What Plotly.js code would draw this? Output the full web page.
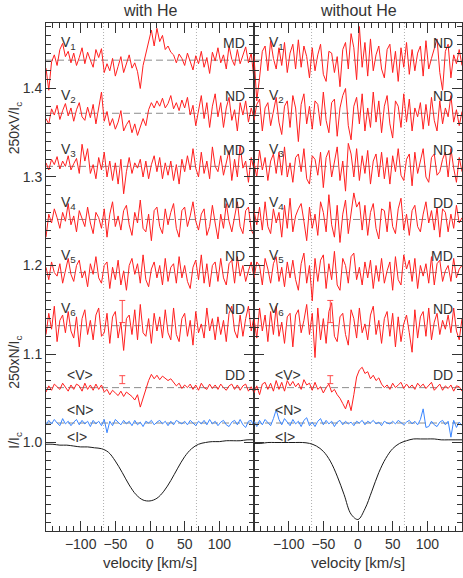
<!DOCTYPE html>
<html>
<head>
<meta charset="utf-8">
<script src="https://cdn.plot.ly/plotly-3.0.1.min.js"></script>
<style>
  html, body { margin: 0; padding: 0; background: #fff; }
  #grafico { width: 463px; height: 578px; }
</style>
</head>
<body>
<div id="grafico"></div>
<script>
// Velocity grid of the LSD profiles [km/s]
const velocity = [
  -150,-146,-142,-138,-134,-130,-126,-122,-118,-114,
  -110,-106,-102,-98,-94,-90,-86,-82,-78,-74,
  -70,-66,-62,-58,-54,-50,-46,-42,-38,-34,
  -30,-26,-22,-18,-14,-10,-6,-2,2,6,
  10,14,18,22,26,30,34,38,42,46,
  50,54,58,62,66,70,74,78,82,86,
  90,94,98,102,106,110,114,118,122,126,
  130,134,138,142,146,150
];

// Stokes V per observation, in units of 0.001 around each offset - "with He"
const withV1 = [
  -9,-34,-2,6,-6,12,19,4,10,-3,  8,-6,3,14,-4,9,0,-8,12,3,
  13,-14,-4,-12,2,-18,-7,4,-14,-3,  6,-9,-3,-13,-32,-6,8,22,34,16,
  36,21,28,12,16,9,6,-3,7,2,  -6,8,-2,-11,5,-4,10,-8,3,-15,
  9,-1,14,-3,6,-10,16,1,-6,12,  -4,5,15,-3,8,-22
];
const withV2 = [
  -6,-12,5,-2,9,-7,3,11,-3,6,  -9,4,12,-4,-8,7,-5,10,-12,4,
  24,-9,2,-14,-6,-18,-10,3,-20,-13,  -8,-22,-12,-25,-16,-6,-14,4,12,6,
  14,8,17,6,11,20,5,12,3,15,  6,18,-2,9,-14,5,20,-6,12,-16,
  8,22,-4,12,-16,6,18,-8,4,-20,  12,-2,14,-10,6,-6
];
const withV3 = [
  4,-4,8,2,11,-3,6,0,12,-4,  3,9,-8,25,6,20,-8,2,-14,10,
  -4,16,-12,6,-16,4,-20,8,-31,-6,  10,-8,4,-2,8,-12,6,-14,2,12,
  -6,10,-14,4,-10,6,-16,2,-20,8,  -6,12,-4,20,-2,-12,16,-8,6,-14,
  22,0,-6,12,-10,4,18,-16,8,-12,  24,-2,6,-18,10,-4
];
const withV4 = [
  -20,6,-4,12,2,-10,8,-2,18,-6,  4,-14,10,0,-8,14,-4,-16,8,2,
  -10,12,-20,6,20,-8,4,-12,10,16,  -6,-18,8,-4,22,-10,-14,6,-24,10,
  14,-8,-16,12,-6,8,18,-10,-20,10,  14,-8,4,20,-2,-12,6,12,-18,-8,
  16,-4,-22,6,-10,18,-2,-14,4,20,  -8,-16,10,14,-12,-18
];
const withV5 = [
  6,-8,12,0,-4,10,-12,4,16,-2,  -10,8,14,-6,2,-16,10,-2,18,-6,
  -12,8,12,-18,6,-8,14,-14,2,-20,  8,16,-2,10,-12,20,-8,-16,4,12,
  -6,8,-14,16,-10,6,10,-12,18,-6,  8,-10,-18,6,14,-8,20,-12,10,-16,
  8,12,-10,16,-6,-14,10,14,-12,18,  -4,8,-10,2,12,-6
];
const withV6 = [
  -10,14,-4,22,-18,6,12,-8,16,-6,  -14,10,-24,8,18,-10,6,-16,12,20,
  -12,-8,14,-20,10,16,-14,4,-28,8,  12,-10,18,-16,24,-8,-12,8,-20,14,
  -6,10,-14,18,-8,-16,20,-10,-18,8,  14,-12,6,-22,16,-8,2,-14,20,-6,
  8,-16,10,-10,6,-18,14,22,-6,-14,  12,-12,8,22,-6,10
];
const withMeanV = [
  -5,2,-3,4,1,-2,5,0,-4,3,  -2,4,2,-4,5,-2,3,-3,4,-2,
  3,-5,-2,-8,-3,-6,-9,-4,-10,-5,  -7,-10,-14,-8,-22,-12,-2,8,15,10,
  14,9,13,11,8,10,6,2,5,-1,  3,0,4,-2,3,-3,5,0,-2,4,
  -1,3,-2,4,0,-3,2,4,-2,3,  -3,2,4,-4,1,-6
];
const withMeanN = [
  -2,3,-1,4,0,-3,5,-1,2,-3,  1,4,-2,3,-1,2,-4,3,-1,2,
  -3,4,-11,2,-3,4,1,-2,3,-1,  2,-3,3,-2,1,-4,2,0,3,-2,
  1,3,-1,2,-3,2,-2,3,1,-1,  2,-2,3,0,-3,2,-1,3,-2,4,
  -1,2,-3,1,3,-2,-4,1,3,-2,  4,-2,-5,2,3,-4
];

// Same set - "without He"
const noHeV1 = [
  5,-46,-20,10,16,-12,22,2,-10,14,  -6,20,-14,8,18,-10,23,-8,16,4,
  -20,14,-12,6,18,-16,-24,10,8,-14,  4,-30,12,20,-10,30,14,-22,38,-8,
  20,-18,24,-12,6,16,-10,-20,12,18,  -14,10,-24,14,-8,20,-16,12,-12,8,
  16,-18,22,-10,2,14,24,-14,-34,10,  18,-20,6,-4,12,-6
];
const noHeV2 = [
  -8,10,16,-20,6,12,-14,4,18,-10,  -24,8,14,-16,20,6,-32,10,22,-12,
  8,-18,14,10,-14,24,-8,-22,12,16,  -26,6,20,28,-14,-30,8,18,-12,22,
  -20,6,-16,24,-10,14,-22,8,20,-12,  -28,14,8,-16,22,-10,16,-20,6,-4,
  12,-18,10,-14,18,-8,-20,14,-12,6,  -4,20,-10,4,-14,2
];
const noHeV3 = [
  4,-12,18,-4,10,-16,6,14,-8,16,  -10,22,-12,4,-18,10,14,-6,20,-14,
  -20,12,8,-10,16,-24,10,18,-12,4,  22,-16,6,-28,26,14,-12,20,-16,12,
  -8,18,-20,6,14,-12,16,-14,10,-20,  12,-6,20,-10,-16,8,14,-22,16,-8,
  6,20,-12,-18,10,14,-10,-6,8,16,  -12,20,-2,-18,10,-6
];
const noHeV4 = [
  10,-6,14,-12,20,-8,-16,12,-4,8,  -20,16,-10,24,-14,4,12,18,-2,-24,
  14,-10,6,-18,20,8,-14,28,-6,-20,  16,-26,6,22,-16,10,30,14,20,-12,
  16,-18,8,18,-10,-22,12,10,-14,20,  -8,-16,12,24,-12,6,-18,10,16,-8,
  -14,6,20,-4,10,-12,14,-20,12,8,  -14,6,-10,16,-4,2
];
const noHeV5 = [
  -6,12,8,-14,16,4,-12,10,18,-10,  6,-16,12,-6,14,-8,-20,10,22,-12,
  8,-32,16,-10,14,20,-18,10,-8,24,  -14,-20,16,8,-12,18,22,-8,6,-14,
  12,-6,14,-18,8,-10,16,-12,2,12,  -20,18,-8,-14,20,4,14,-10,16,-18,
  8,-4,10,-12,18,-14,10,14,-10,2,  8,-10,16,-6,4,8
];
const noHeV6 = [
  8,-14,20,-6,12,-18,16,-10,22,-12,  4,-20,10,14,-24,12,18,-8,6,24,
  -10,14,-36,20,-16,8,-20,16,26,-12,  -18,10,14,-10,-22,18,8,-14,20,-8,
  2,-16,12,22,-10,6,-20,8,16,-12,  14,-24,10,-18,2,12,-8,-30,18,-14,
  10,16,-12,20,-16,4,14,-10,6,-4,  12,-8,20,-6,-16,8
];
const noHeMeanV = [
  -6,2,-8,4,6,-2,5,-4,8,-2,  6,-4,8,2,7,1,5,-2,9,3,
  5,-3,6,-2,1,-6,0,4,-5,-2,  -8,-12,-18,-24,-14,-26,-8,12,20,23,
  16,18,10,14,8,11,4,0,3,-2,  5,0,3,6,-1,4,0,3,-2,5,
  1,4,-1,3,6,-3,1,4,-3,2,  -1,3,-4,2,1,-4
];
const noHeMeanN = [
  2,-4,3,-2,4,0,-3,5,15,4,  -2,5,1,-3,4,-1,2,-4,3,6,
  -3,1,-4,2,5,-2,3,-1,2,-4,  1,3,-2,2,-1,1,-3,2,0,3,
  -2,2,0,3,-1,1,-3,2,0,-1,  2,-1,3,0,-2,1,3,-1,2,-2,
  4,16,-5,-4,2,-2,-4,1,3,-2,  2,-16,3,-5,1,-3
];

// Stokes I profiles (normalised intensity)
const profileVel = [-150,-140,-130,-120,-110,-100,-90,-80,-70,-60,-50,-40,-30,-20,-10,0,
  10,20,30,40,50,60,70,80,90,100,110,120,130,140,150];
const withI = [0.998,0.998,0.997,0.997,0.996,0.995,0.995,0.994,0.993,0.989,0.979,0.966,0.952,0.941,0.935,0.934,
  0.937,0.945,0.957,0.971,0.984,0.993,0.998,1.000,1.001,1.001,1.002,1.002,1.002,1.003,1.003];
const noHeI = [0.999,0.999,1.000,1.000,1.000,1.000,1.000,1.000,0.999,0.996,0.990,0.979,0.962,0.941,0.919,0.913,
  0.925,0.945,0.966,0.982,0.993,0.999,1.002,1.004,1.004,1.004,1.004,1.003,1.003,1.003,1.003];

// Offsets of the stacked profiles
const offsetsV = [1.432, 1.372, 1.312, 1.252, 1.192, 1.132];
const offsetMeanV = 1.062;
const offsetMeanN = 1.022;

// Labels
const rowLabels = ['V<sub>1</sub>', 'V<sub>2</sub>', 'V<sub>3</sub>', 'V<sub>4</sub>', 'V<sub>5</sub>', 'V<sub>6</sub>'];
const detectWith = ['MD', 'ND', 'MD', 'MD', 'ND', 'ND', 'DD'];
const detectNoHe = ['ND', 'ND', 'ND', 'DD', 'MD', 'ND', 'DD'];

// Typical error bars (V6 row and mean)
const errVel = -40;
const errRow = 0.0125;
const errMean = 0.0045;
const dottedVel = [-67, 67];

const RED = '#ff1f1f';
const BLUE = '#3a86ff';
const INK = '#333333';
const FONT = 'Liberation Sans, Arial, sans-serif';

const withV = [withV1, withV2, withV3, withV4, withV5, withV6];
const noHeV = [noHeV1, noHeV2, noHeV3, noHeV4, noHeV5, noHeV6];

function shift(arr, off) {
  return arr.map(d => off + d / 1000);
}

function panelTraces(vSet, meanV, meanN, prof, xa, ya) {
  const tr = [];
  vSet.forEach((v, i) => {
    tr.push({ x: velocity, y: shift(v, offsetsV[i]), xaxis: xa, yaxis: ya, type: 'scatter', mode: 'lines',
      line: { color: RED, width: 1 }, hoverinfo: 'skip' });
  });
  tr.push({ x: velocity, y: shift(meanV, offsetMeanV), xaxis: xa, yaxis: ya, mode: 'lines',
    line: { color: RED, width: 1 }, hoverinfo: 'skip' });
  tr.push({ x: velocity, y: shift(meanN, offsetMeanN), xaxis: xa, yaxis: ya, mode: 'lines',
    line: { color: BLUE, width: 1 }, hoverinfo: 'skip' });
  tr.push({ x: profileVel, y: prof, xaxis: xa, yaxis: ya, mode: 'lines',
    line: { color: '#1a1a1a', width: 1, shape: 'spline' }, hoverinfo: 'skip' });
  // error bars
  tr.push({ x: [errVel, errVel], y: [offsetsV[5] + 0.016, offsetMeanV + 0.009], xaxis: xa, yaxis: ya,
    mode: 'markers', marker: { size: 1, color: 'rgba(0,0,0,0)' },
    error_y: { type: 'data', array: [errRow, errMean], color: '#ff4a4a', thickness: 1, width: 3 },
    hoverinfo: 'skip' });
  return tr;
}

const data = [].concat(
  panelTraces(withV, withMeanV, withMeanN, withI, 'x', 'y'),
  panelTraces(noHeV, noHeMeanV, noHeMeanN, noHeI, 'x2', 'y2')
);

// dashed reference lines and dotted velocity limits
const shapes = [];
[['x', 'y'], ['x2', 'y2']].forEach(([xa, ya]) => {
  offsetsV.concat([offsetMeanV, offsetMeanN]).forEach(off => {
    shapes.push({ type: 'line', xref: xa + ' domain', yref: ya, x0: 0, x1: 1, y0: off, y1: off,
      line: { color: '#8c8c8c', width: 1, dash: '7px,4px' }, layer: 'below' });
  });
  dottedVel.forEach(v => {
    shapes.push({ type: 'line', xref: xa, yref: ya + ' domain', x0: v, x1: v, y0: 0, y1: 1,
      line: { color: '#b0b0b0', width: 1, dash: '1px,2px' }, layer: 'below' });
  });
});

const annotations = [];
const txt = (text, xa, ya, x, y, anchor, size) => ({
  text, xref: xa, yref: ya, x, y, xanchor: anchor, yanchor: 'middle', showarrow: false,
  font: { family: FONT, size: size || 14, color: INK }
});
[['x', 'y', detectWith], ['x2', 'y2', detectNoHe]].forEach(([xa, ya, det]) => {
  offsetsV.forEach((off, i) => {
    annotations.push(txt(rowLabels[i], xa, ya, -131, off + 0.019, 'left'));
    annotations.push(txt(det[i], xa, ya, 140, off + 0.019, 'right'));
  });
  annotations.push(txt('&lt;V&gt;', xa, ya, -122, offsetMeanV + 0.0145, 'left'));
  annotations.push(txt(det[6], xa, ya, 140, offsetMeanV + 0.0145, 'right'));
  annotations.push(txt('&lt;N&gt;', xa, ya, -122, offsetMeanN + 0.015, 'left'));
  annotations.push(txt('&lt;I&gt;', xa, ya, -122, 1.0065, 'left'));
});
// panel titles
annotations.push(Object.assign(txt('with He', 'x domain', 'paper', 0.5, 1, 'center', 16), { yshift: 13 }));
annotations.push(Object.assign(txt('without He', 'x2 domain', 'paper', 0.5, 1, 'center', 16), { yshift: 13 }));
// y axis titles
[['250xV/I<sub>c</sub>', 1.355], ['250xN/I<sub>c</sub>', 1.090], ['I/I<sub>c</sub>', 1.002]].forEach(([t, y]) => {
  annotations.push(Object.assign(txt(t, 'paper', 'y', 0, y, 'center', 14), { textangle: -90, xshift: -31 }));
});

const xaxisBase = {
  range: [-150, 150], tickmode: 'array', tickvals: [-100, -50, 0, 50, 100],
  ticks: 'inside', ticklen: 10, tickwidth: 1, tickcolor: INK,
  minor: { tickmode: 'linear', tick0: 0, dtick: 10, ticks: 'inside', ticklen: 5, tickcolor: INK },
  showline: true, linecolor: INK, linewidth: 1, mirror: 'ticks',
  showgrid: false, zeroline: false,
  tickfont: { family: FONT, size: 14, color: INK },
  title: { text: 'velocity [km/s]', font: { family: FONT, size: 15, color: INK }, standoff: 6 }
};
const yaxisBase = {
  range: [0.9, 1.474], tickmode: 'array', tickvals: [1.0, 1.1, 1.2, 1.3, 1.4], tickformat: '.1f',
  ticks: 'inside', ticklen: 10, tickwidth: 1, tickcolor: INK,
  minor: { tickmode: 'linear', tick0: 0.9, dtick: 0.01, ticks: 'inside', ticklen: 5, tickcolor: INK },
  showline: true, linecolor: INK, linewidth: 1, mirror: 'ticks',
  showgrid: false, zeroline: false,
  tickfont: { family: FONT, size: 14, color: INK }
};

const layout = {
  width: 463, height: 578,
  margin: { l: 46, r: 1, t: 23, b: 47 },
  showlegend: false,
  paper_bgcolor: '#ffffff', plot_bgcolor: '#ffffff',
  xaxis: Object.assign({}, xaxisBase, { domain: [0, 0.5], anchor: 'y' }),
  xaxis2: Object.assign({}, xaxisBase, { domain: [0.5, 1], anchor: 'y2' }),
  yaxis: Object.assign({}, yaxisBase, { anchor: 'x' }),
  yaxis2: Object.assign({}, yaxisBase, { anchor: 'x2', showticklabels: false }),
  shapes, annotations
};

Plotly.newPlot('grafico', data, layout, { staticPlot: true });
</script>
</body>
</html>
